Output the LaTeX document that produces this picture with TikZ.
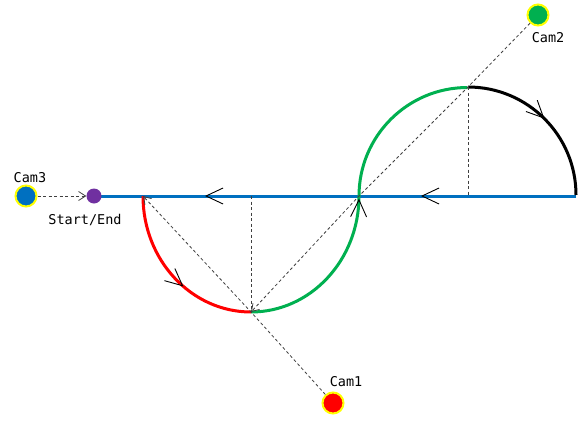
\documentclass[tikz,border=0pt]{standalone}
\usepackage{fontspec}
\newfontfamily\labelfont{DejaVu Sans Mono}
\usetikzlibrary{arrows.meta,decorations.markings}
\definecolor{pathblue}{HTML}{0070C0}
\definecolor{pathgreen}{HTML}{00B050}
\definecolor{pathred}{HTML}{FF0000}
\definecolor{dotpurple}{HTML}{7030A0}
\definecolor{camyellow}{HTML}{FFFF00}
\definecolor{dashgray}{HTML}{404040}
\begin{document}
\begin{tikzpicture}[x=1pt,y=-1pt,
  route/.style={line width=3pt},
  dir/.style={postaction={decorate},decoration={markings,
     mark=at position #1 with {\arrow[black]{Straight Barb[length=17pt,width=16pt,line width=0.9pt]}}}},
  dirtwo/.style 2 args={postaction={decorate},decoration={markings,
     mark=at position #1 with {\arrow[black]{Straight Barb[length=17pt,width=16pt,line width=0.9pt]}},
     mark=at position #2 with {\arrow[black]{Straight Barb[length=17pt,width=16pt,line width=0.9pt]}}}},
  sight/.style={dashgray, line width=0.8pt, dash pattern=on 3pt off 2.5pt},
  sightarrow/.style={sight, -{Straight Barb[length=7pt,width=9pt,line width=0.8pt]}},
  cam/.style={circle, draw=camyellow, line width=2pt, fill=#1, minimum size=21pt, inner sep=0pt},
  startdot/.style={circle, fill=dotpurple, minimum size=15pt, inner sep=0pt},
  lbl/.style={font=\labelfont\fontsize{13.5}{15}\selectfont, inner sep=0pt}
]
\useasboundingbox (0,0) rectangle (580,420);
\fill[white] (0,0) rectangle (580,420);

\coordinate (S) at (94,196);
\coordinate (L) at (143,196);
\coordinate (B) at (251,312);
\coordinate (M) at (359,196);
\coordinate (T) at (468,87);
\coordinate (R) at (576,196);

% route
\draw[route, pathblue, dirtwo={155pt}{371pt}] (R) -- (S);
\draw[route, pathred, dir=0.58] (L) arc[start angle=180, end angle=90, x radius=108, y radius=116];
\draw[route, pathgreen, dir=0.5] (B) arc[start angle=90, end angle=0, x radius=108, y radius=116]
   arc[start angle=180, end angle=270, radius=108.5];
\draw[route, black, dir=0.5] (T) arc[start angle=270, end angle=360, radius=108];

% nodes
\node[startdot] (start) at (S) {};
\node[cam=pathblue] (cam3) at (26,196) {};
\node[cam=pathred] (cam1) at (333,403) {};
\node[cam=pathgreen] (cam2) at (538,15) {};

\node[lbl] (cam3lbl) at (30,178) {Cam3};
\node[lbl] (startlbl) at (85,220) {Start/End};
\node[lbl] (cam1lbl) at (346,382) {Cam1};
\node[lbl] (cam2lbl) at (548,38) {Cam2};

% sight lines
\draw[sightarrow] (cam3) -- (start);
\draw[sightarrow] (cam1) -- (B) -- (L);
\draw[sightarrow] (cam2) -- (T) -- (M) -- (B);
\draw[sight] (B |- L) -- (B);
\draw[sight] (T) -- (T |- R);
\end{tikzpicture}
\end{document}
